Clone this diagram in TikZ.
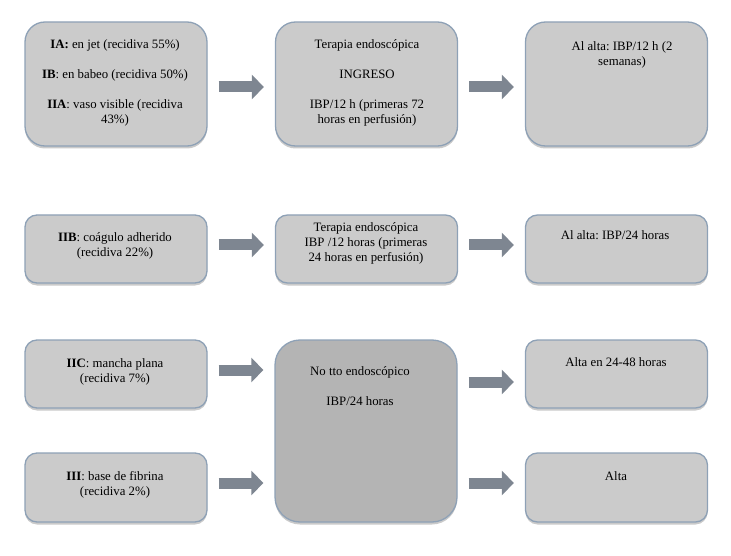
\documentclass[tikz,border=0pt]{standalone}
\usepackage{fontspec}
\setmainfont{Liberation Serif}
\frenchspacing
\usetikzlibrary{arrows.meta,shadows}
\definecolor{boxfill}{HTML}{CBCBCB}
\definecolor{darkfill}{HTML}{B4B4B4}
\definecolor{boxline}{HTML}{8EA1B6}
\definecolor{arrowcol}{HTML}{7E8691}
\tikzset{
  box/.style={draw=boxline, line width=1.3pt, fill=boxfill, rounded corners=#1,
    minimum width=182pt, inner sep=0pt,
    drop shadow={shadow xshift=0pt, shadow yshift=-2.5pt, opacity=0.35, fill=black!60}},
  box/.default=12pt,
  txt/.style={anchor=north, align=center, inner sep=0pt, font=\fontsize{12.8}{15}\selectfont},
  arr/.style={draw=arrowcol, line width=11pt,
    -{Triangle[length=12pt,width=24pt,fill=arrowcol]},
    shorten <=11pt, shorten >=11pt}
}
\begin{document}
\begin{tikzpicture}[x=1pt,y=-1pt]
\useasboundingbox (0,0) rectangle (731,556);
% row 1
\node[box=20pt, minimum height=124pt] (b1) at (116,84) {};
\node[box=20pt, minimum height=124pt] (b2) at (366.5,84) {};
\node[box=20pt, minimum height=124pt] (b3) at (616.5,84) {};
\node[txt] (t1) at (115,39) {\textbf{IA:} en jet (recidiva 55\%)\\[15pt]
  \textbf{IB}: en babeo (recidiva 50\%)\\[15pt]
  \textbf{IIA}: vaso visible (recidiva\\43\%)};
\node[txt] (t2) at (367,39) {Terapia endoscópica\\[15pt]INGRESO\\[15pt]
  IBP/12 h (primeras 72\\horas en perfusión)};
\node[txt] (t3) at (622,41) {Al alta: IBP/12 h (2\\semanas)};
% row 2
\node[box, minimum height=68pt] (c1) at (116,249) {};
\node[box, minimum height=68pt] (c2) at (366.5,249) {};
\node[box, minimum height=68pt] (c3) at (616.5,249) {};
\node[txt] (u1) at (115,232) {\textbf{IIB}: coágulo adherido\\(recidiva 22\%)};
\node[txt] (u2) at (366,222) {Terapia endoscópica\\IBP /12 horas (primeras\\24 horas en perfusión)};
\node[txt] (u3) at (615,230) {Al alta: IBP/24 horas};
% row 3
\node[box, minimum height=68pt] (d1) at (116,374) {};
\node[box, minimum height=69pt] (e1) at (116,487.5) {};
\node[box=25pt, minimum height=182pt, fill=darkfill] (m) at (366,431) {};
\node[box, minimum height=68pt] (d3) at (616.5,374) {};
\node[box, minimum height=69pt] (e3) at (616.5,487.5) {};
\node[txt] (v1) at (115,358) {\textbf{IIC}: mancha plana\\(recidiva 7\%)};
\node[txt] (w1) at (115,471) {\textbf{III}: base de fibrina\\(recidiva 2\%)};
\node[txt] (vm) at (360,366) {No tto endoscópico\\[15pt]IBP/24 horas};
\node[txt] (v3) at (616,357) {Alta en 24-48 horas};
\node[txt] (w3) at (616,471) {Alta};
% arrows
\draw[arr] ([yshift=-3pt]b1.east) -- ([yshift=-3pt]b2.west);
\draw[arr] ([yshift=-3pt]b2.east) -- ([yshift=-3pt]b3.west);
\draw[arr] ([yshift=4pt]c1.east) -- ([yshift=4pt]c2.west);
\draw[arr] ([yshift=4pt]c2.east) -- ([yshift=4pt]c3.west);
\draw[arr] ([yshift=4pt]d1.east) -- ([yshift=4pt]d1.east -| m.west);
\draw[arr] ([yshift=4.5pt]e1.east) -- ([yshift=4.5pt]e1.east -| m.west);
\draw[arr] ([yshift=-8pt]d3.west -| m.east) -- ([yshift=-8pt]d3.west);
\draw[arr] ([yshift=4.5pt]e3.west -| m.east) -- ([yshift=4.5pt]e3.west);
\end{tikzpicture}
\end{document}
